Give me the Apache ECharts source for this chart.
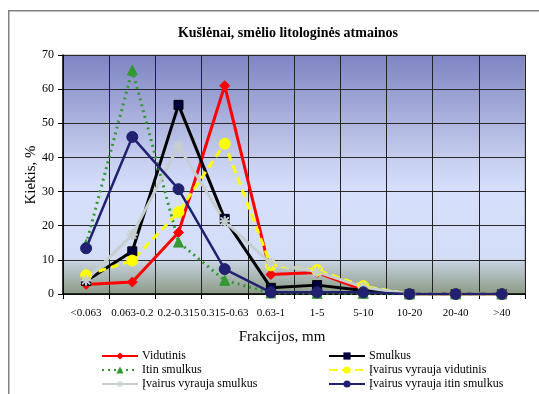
<!DOCTYPE html>
<html>
<head>
<meta charset="utf-8">
<script src="https://cdn.jsdelivr.net/npm/echarts@6/dist/echarts.min.js"></script>
<style>
  html, body { margin: 0; padding: 0; background: #fff; }
  #chart { width: 539px; height: 394px; }
</style>
</head>
<body>
<div id="chart"></div>
<script>
// Fraction classes (mm)
const categories = ['<0.063', '0.063-0.2', '0.2-0.315', '0.315-0.63', '0.63-1', '1-5', '5-10', '10-20', '20-40', '>40'];

// Share of each fraction, %
const vidutinis      = [2.8, 3.5, 18.0, 61.0, 5.7, 6.3, 1.2, 0, 0, 0];
const smulkus        = [3.8, 12.5, 55.4, 22.0, 1.8, 2.6, 1.0, 0, 0, 0];
const itinSmulkus    = [14.5, 65.6, 15.2, 4.0, 0.3, 0.2, 0.2, 0, 0, 0];
const ivVidutinis    = [5.5, 9.8, 24.0, 44.0, 8.4, 7.0, 2.3, 0, 0, 0];
const ivSmulkus      = [4.0, 17.4, 43.3, 21.3, 9.0, 6.5, 2.0, 0, 0, 0];
const ivItinSmulkus  = [13.4, 46.0, 30.7, 7.3, 0.5, 0.5, 0.5, 0, 0, 0];

const yTicks = { min: 0, max: 70, interval: 10 };

const FONT = '"Liberation Serif", "Times New Roman", serif';
// asterisk-shaped marker
const ASTERISK = 'path://M0,4.4H10V5.6H0Z M4.4,0H5.6V10H4.4Z M0.8,1.6L1.6,0.8L9.2,8.4L8.4,9.2Z M8.4,0.8L9.2,1.6L1.6,9.2L0.8,8.4Z';

const seriesDefs = [
  { name: 'Vidutinis', data: vidutinis, color: '#ff0000', type: 'solid', width: 3, symbol: 'diamond', size: 10, fill: '#ff0000', border: '#ff0000' },
  { name: 'Smulkus', data: smulkus, color: '#000000', type: 'solid', width: 3, symbol: 'rect', size: 9, fill: '#00003c', border: '#000000' },
  { name: 'Itin smulkus', data: itinSmulkus, color: '#339933', type: [2, 4], width: 3, symbol: 'triangle', size: 10, fill: '#339933', border: '#339933' },
  { name: 'Įvairus vyrauja vidutinis', data: ivVidutinis, color: '#ffff00', type: [8, 5], width: 3, symbol: 'circle', size: 11, fill: '#ffff00', border: '#ffff00' },
  { name: 'Įvairus vyrauja smulkus', data: ivSmulkus, color: '#c6cece', type: 'solid', width: 3, symbol: ASTERISK, size: 10, fill: '#c6cece', border: '#c6cece' },
  { name: 'Įvairus vyrauja itin smulkus', data: ivItinSmulkus, color: '#212170', type: 'solid', width: 2.5, symbol: 'circle', size: 11, fill: '#212170', border: '#212170' }
];

const legendPos = [
  { left: 101, top: 350 }, { left: 328, top: 350 },
  { left: 101, top: 364 }, { left: 328, top: 364 },
  { left: 101, top: 378 }, { left: 328, top: 378 }
];

const chart = echarts.init(document.getElementById('chart'), null, { renderer: 'canvas' });

chart.setOption({
  animation: false,
  textStyle: { fontFamily: FONT },
  graphic: [
    {
      type: 'rect', left: 8, top: 10, z: -10,
      shape: { width: 545, height: 400 },
      style: { fill: '#ffffff', stroke: '#808080', lineWidth: 1.5 }
    },
    {
      type: 'text', x: 288, y: 33,
      style: {
        text: 'Kušlėnai, smėlio litologinės atmainos',
        font: 'bold 14px ' + FONT, fill: '#000',
        align: 'center', verticalAlign: 'middle'
      }
    },
    {
      type: 'text', x: 31, y: 175, rotation: Math.PI / 2,
      style: {
        text: 'Kiekis, %', font: '15px ' + FONT, fill: '#000',
        align: 'center', verticalAlign: 'middle'
      }
    },
    {
      type: 'text', x: 282, y: 337,
      style: {
        text: 'Frakcijos, mm', font: '15px ' + FONT, fill: '#000',
        align: 'center', verticalAlign: 'middle'
      }
    }
  ],
  legend: seriesDefs.map((s, i) => ({
    data: [s.name],
    left: legendPos[i].left, top: legendPos[i].top,
    orient: 'horizontal', padding: 0,
    itemWidth: 36, itemHeight: 9, itemGap: 4,
    itemStyle: { borderWidth: 0 },
    textStyle: { fontFamily: FONT, fontSize: 12, color: '#000', padding: [0, 0, 0, -1] }
  })),
  grid: {
    left: 63, right: 14, top: 55, bottom: 100,
    show: true, borderColor: '#a0a0a0', borderWidth: 1,
    backgroundColor: {
      type: 'linear', x: 0, y: 0, x2: 0, y2: 1,
      colorStops: [
        { offset: 0, color: '#7d84c2' },
        { offset: 0.43, color: '#c6cdee' },
        { offset: 0.57, color: '#d6e0fc' },
        { offset: 0.85, color: '#d3ddf6' },
        { offset: 0.87, color: '#c3ceda' },
        { offset: 1, color: '#8a9a84' }
      ]
    }
  },
  xAxis: {
    type: 'category',
    data: categories,
    boundaryGap: true,
    axisLine: { lineStyle: { color: '#000', width: 1.5 } },
    axisTick: { show: true, length: 5, interval: 0, lineStyle: { color: '#000' } },
    axisLabel: { interval: 0, fontFamily: FONT, fontSize: 11, color: '#000', margin: 14 },
    splitLine: { show: true, interval: 0, lineStyle: { color: '#222', width: 1 } }
  },
  yAxis: {
    type: 'value',
    min: yTicks.min, max: yTicks.max, interval: yTicks.interval,
    axisLine: { show: true, lineStyle: { color: '#000', width: 1.5 } },
    axisTick: { show: true, length: 5, lineStyle: { color: '#000' } },
    axisLabel: { fontFamily: FONT, fontSize: 12, color: '#000', margin: 9 },
    splitLine: { show: true, lineStyle: { color: '#2a2a2a', width: 1 } }
  },
  series: seriesDefs.map(s => ({
    name: s.name,
    type: 'line',
    data: s.data,
    symbol: s.symbol,
    symbolSize: s.size,
    showAllSymbol: true,
    lineStyle: { color: s.color, width: s.width, type: s.type },
    itemStyle: { color: s.fill, borderColor: s.border, borderWidth: 1 }
  }))
});
</script>
</body>
</html>
